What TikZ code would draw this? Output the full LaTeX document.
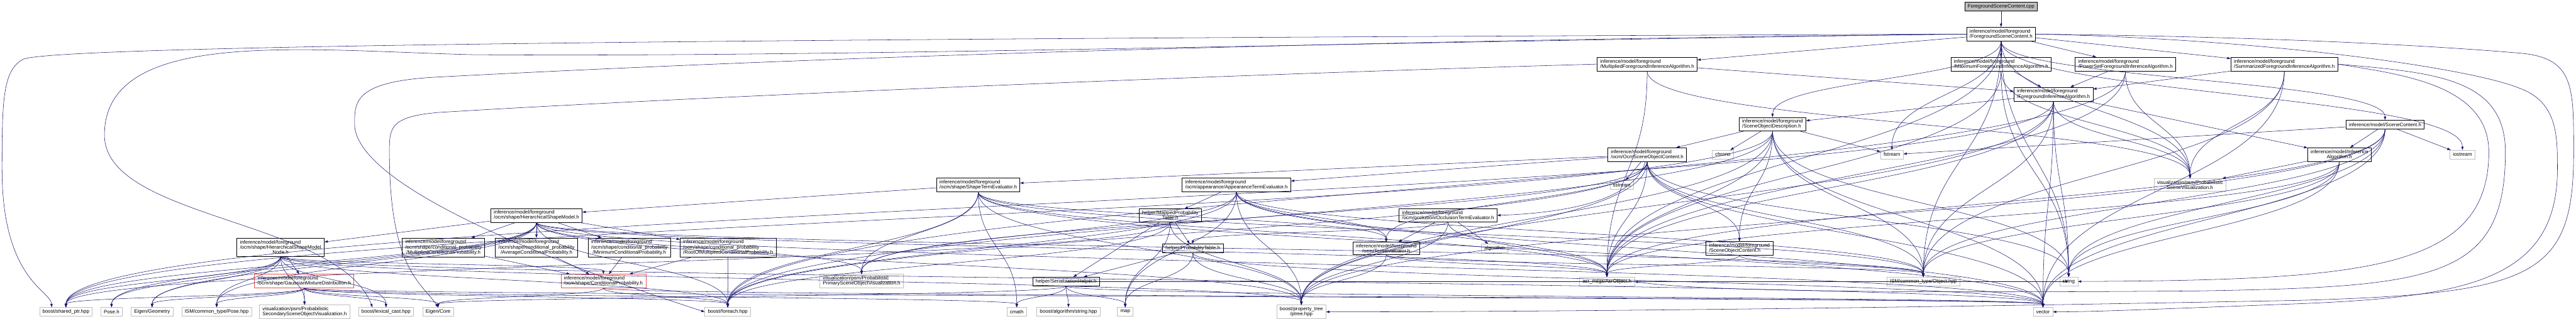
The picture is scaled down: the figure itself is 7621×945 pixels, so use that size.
\documentclass[tikz,border=0pt]{standalone}
\usepackage{fontspec}
\setmainfont{Liberation Sans}
\usepackage{tikz}
\usetikzlibrary{calc,arrows.meta}
\definecolor{edgeblue}{HTML}{191970}
\definecolor{extgrey}{HTML}{BFBFBF}
\definecolor{cutred}{HTML}{F44B4B}
\definecolor{srcgrey}{HTML}{BFBFBF}
\newcommand{\graphfont}{\fontsize{14.7pt}{15pt}\selectfont}
\newcommand{\lastln}[1]{\hspace*{\fill}#1\hspace*{\fill}}

\begin{document}
\begin{tikzpicture}[x=1pt, y=-1pt, >={Triangle[length=10pt,width=7pt]},
  hdr/.style={draw=black, fill=white, line width=1.1pt, align=left, font=\graphfont,
    inner xsep=9pt, inner ysep=6pt, minimum height=26pt},
  ext/.style={hdr, draw=extgrey},
  cut/.style={hdr, draw=cutred},
  src/.style={hdr, fill=srcgrey},
  dep/.style={->, draw=edgeblue, line width=1pt,
    to path={.. controls ($(\tikztostart)!.5!(\tikztostart |- \tikztotarget)$)
      and ($(\tikztotarget)!.5!(\tikztotarget |- \tikztostart)$) .. (\tikztotarget)}}]
\useasboundingbox (0,0) rectangle (7621,945);

\node[src] (cpp) at (5920,19) {ForegroundSceneContent.cpp};
\node[hdr] (fsc) at (5920,101) {inference/model/foreground\\/ForegroundSceneContent.h};
\node[hdr] (mulfia) at (4873,190) {inference/model/foreground\\/MultipliedForegroundInferenceAlgorithm.h};
\node[hdr] (maxfia) at (5920,190) {inference/model/foreground\\/MaximumForegroundInferenceAlgorithm.h};
\node[hdr] (psfia) at (6288,190) {inference/model/foreground\\/PowerSetForegroundInferenceAlgorithm.h};
\node[hdr] (sumfia) at (6758,190) {inference/model/foreground\\/SummarizedForegroundInferenceAlgorithm.h};
\node[hdr] (fia) at (6075,279) {inference/model/foreground\\/ForegroundInferenceAlgorithm.h};
\node[hdr] (sod) at (5244,368) {inference/model/foreground\\/SceneObjectDescription.h};
\node[hdr] (scene) at (7056,369) {inference/model/SceneContent.h};
\node[hdr, align=center] (infalg) at (6921,458) {inference/model/Inference\\Algorithm.h};
\node[ext] (iostream) at (7285,458) {iostream};
\node[ext] (chrono) at (5097,458) {chrono};
\node[ext] (fstream) at (5597,458) {fstream};
\node[hdr] (ocmsoc) at (4873,458) {inference/model/foreground\\/ocm/OcmSceneObjectContent.h};
\node[ext] (sstream) at (4798,548) {sstream};
\node[hdr] (shapete) at (2894,548) {inference/model/foreground\\/ocm/shape/ShapeTermEvaluator.h};
\node[hdr] (appte) at (3658,548) {inference/model/foreground\\/ocm/appearance/AppearanceTermEvaluator.h};
\node[ext, align=center] (psv) at (6479,548) {visualization/psm/Probabilistic\\SceneVisualization.h};
\node[hdr] (occte) at (4284,638) {inference/model/foreground\\/ocm/occlusion/OcclusionTermEvaluator.h};
\node[hdr] (hsm) at (1587,638) {inference/model/foreground\\/ocm/shape/HierarchicalShapeModel.h};
\node[hdr, align=center] (mappt) at (3462,638) {helper/MappedProbability\\Table.h};
\node[hdr] (hsmnode) at (830,733) {inference/model/foreground\\/ocm/shape/HierarchicalShapeModel\\\lastln{Node.h}};
\node[hdr] (mulcp) at (1312,733) {inference/model/foreground\\/ocm/shape/conditional\_probability\\\lastln{/MultipliedConditionalProbability.h}};
\node[hdr] (avgcp) at (1587,733) {inference/model/foreground\\/ocm/shape/conditional\_probability\\\lastln{/AverageConditionalProbability.h}};
\node[hdr] (mincp) at (1862,733) {inference/model/foreground\\/ocm/shape/conditional\_probability\\\lastln{/MinimumConditionalProbability.h}};
\node[hdr] (rootcp) at (2154,733) {inference/model/foreground\\/ocm/shape/conditional\_probability\\/RootOfMultipliedConditionalProbability.h};
\node[hdr, align=center] (termev) at (4101,736) {inference/model/foreground\\/ocm/TermEvaluator.h};
\node[ext] (algorithm) at (4422,736) {algorithm};
\node[hdr] (pt) at (3529,736) {helper/ProbabilityTable.h};
\node[hdr] (soc) at (5146,736) {inference/model/foreground\\/SceneObjectContent.h};
\node[cut] (gmd) at (900,833) {inference/model/foreground\\/ocm/shape/GaussianMixtureDistribution.h};
\node[cut] (cp) at (1785,833) {inference/model/foreground\\/ocm/shape/ConditionalProbability.h};
\node[ext] (primsov) at (2549,833) {visualization/psm/Probabilistic\\PrimarySceneObjectVisualization.h};
\node[hdr] (serial) at (3154,834) {helper/SerializationHelper.h};
\node[ext] (asr) at (4754,834) {asr\_msgs/AsrObject.h};
\node[ext] (ismobj) at (5690,834) {ISM/common\_type/Object.hpp};
\node[ext] (string) at (6120,834) {string};
\node[ext] (sharedptr) at (195,924) {boost/shared\_ptr.hpp};
\node[ext] (poseh) at (330,924) {Pose.h};
\node[ext] (eigengeo) at (450,924) {Eigen/Geometry};
\node[ext] (ismpose) at (641,924) {ISM/common\_type/Pose.hpp};
\node[ext] (secsov) at (901,924) {visualization/psm/Probabilistic\\SecondarySceneObjectVisualization.h};
\node[ext] (lexcast) at (1142,924) {boost/lexical\_cast.hpp};
\node[ext] (eigencore) at (1296,924) {Eigen/Core};
\node[ext] (foreach) at (2153,924) {boost/foreach.hpp};
\node[ext] (cmath) at (3008,924) {cmath};
\node[ext] (algstr) at (3161,924) {boost/algorithm/string.hpp};
\node[ext] (map) at (3329,924) {map};
\node[ext, align=center] (ptree) at (3850,924) {boost/property\_tree\\/ptree.hpp};
\node[ext] (vector) at (6044,924) {vector};

\draw[dep] (cpp) -- (fsc);
\foreach \t in {mulfia,maxfia,psfia,sumfia} \draw[dep] (fsc) -- (\t);
\foreach \t in {sod,fstream,scene,iostream,string,asr,ismobj,psv} \draw[dep] (fsc) to (\t);
\draw[dep] (fsc.west) .. controls (3000,112) and (200,128) .. (70,175)
  .. controls (8,205) and (6,300) .. (6,500) .. controls (6,830) and (150,860) .. ([xshift=-42]sharedptr.north);
\draw[dep] (fsc.west) .. controls (4000,125) and (2500,170) .. (1400,162)
  .. controls (900,150) and (309,80) .. (309,400) .. controls (309,650) and (1000,650) .. ([xshift=-40]lexcast.north);
\draw[dep] (fsc.west) .. controls (4000,120) and (2500,165) .. (1300,228)
  .. controls (1049,240) and (1049,300) .. (1049,367) .. controls (1049,560) and (1700,800) .. (foreach.west);
\draw[dep] (fsc.east) .. controls (6800,110) and (7250,140) .. (7450,157)
  .. controls (7614,170) and (7614,250) .. (7614,450) .. controls (7614,820) and (7500,870) .. (6800,890)
  .. controls (5500,915) and (4500,924) .. (ptree.east);
\draw[dep] (fsc.east) .. controls (6700,115) and (7300,200) .. (7450,260)
  .. controls (7566,300) and (7566,400) .. (7566,500) .. controls (7566,830) and (7300,880) .. (6800,900)
  .. controls (6400,915) and (6200,924) .. (vector.east);

\draw[dep] (mulfia) -- (fia);
\foreach \t in {psv,asr} \draw[dep] (mulfia) to (\t);
\draw[dep] (mulfia.west) .. controls (3500,225) and (2000,290) .. (1300,333)
  .. controls (1152,345) and (1152,380) .. (1152,450) .. controls (1152,800) and (1250,840) .. (eigencore.north);
\draw[dep] (maxfia) -- (fia);
\foreach \t in {psv,string,asr} \draw[dep] (maxfia) to (\t);
\draw[dep] (psfia) -- (fia);
\foreach \t in {psv,asr,foreach} \draw[dep] (psfia) to (\t);
\draw[dep] (sumfia) -- (fia);
\foreach \t in {psv,vector,ismobj} \draw[dep] (sumfia) to (\t);
\draw[dep] (sumfia.east) .. controls (7200,215) and (7412,230) .. (7412,450)
  .. controls (7412,830) and (7200,850) .. (6500,862) .. controls (5500,870) and (5000,860) .. (asr.east);
\draw[dep] (sumfia.east) .. controls (7100,220) and (7363,250) .. (7363,450)
  .. controls (7363,800) and (7000,830) .. (string.east);

\draw[dep] (fia) -- (sod);
\draw[dep] (fia) -- (infalg);
\foreach \t in {psv,vector,string,asr,ismobj,ptree,sharedptr} \draw[dep] (fia) to (\t);
\foreach \t in {ocmsoc,chrono,fstream} \draw[dep] (sod) -- (\t);
\foreach \t in {soc,vector,string,asr,ismobj,ptree,foreach,sharedptr} \draw[dep] (sod) to (\t);
\foreach \t in {infalg,iostream,fstream} \draw[dep] (scene) -- (\t);
\foreach \t in {vector,string,asr,ismobj,ptree} \draw[dep] (scene) to (\t);
\draw[dep] (infalg) -- (psv);
\foreach \t in {vector,string,asr,ismobj} \draw[dep] (infalg) to (\t);

\foreach \t in {sstream,shapete,appte} \draw[dep] (ocmsoc) -- (\t);
\draw[dep] (ocmsoc) .. controls +(-40,150) and +(150,-5) .. (occte.east);
\foreach \t in {termev,soc,primsov,vector,string,asr,ismobj,ptree,foreach} \draw[dep] (ocmsoc) to (\t);
\draw[dep] (shapete) -- (hsm);
\foreach \t in {termev,primsov,cmath,vector,asr,ismobj,ptree,foreach} \draw[dep] (shapete) to (\t);
\draw[dep] (appte) -- (mappt);
\foreach \t in {termev,map,primsov,vector,asr,ismobj,ptree,foreach} \draw[dep] (appte) to (\t);
\foreach \t in {termev,algorithm} \draw[dep] (occte) -- (\t);
\foreach \t in {pt,asr,ptree} \draw[dep] (occte) to (\t);
\foreach \t in {asr,ismobj,ptree} \draw[dep] (termev) to (\t);
\foreach \t in {asr,ismobj} \draw[dep] (soc) to (\t);
\foreach \t in {pt,serial} \draw[dep] (mappt) -- (\t);
\foreach \t in {map,ptree,sharedptr,foreach} \draw[dep] (mappt) to (\t);
\draw[dep] (pt) -- (serial);
\foreach \t in {map,vector,ptree} \draw[dep] (pt) to (\t);
\foreach \t in {cmath,algstr,map,string,vector,eigencore} \draw[dep] (serial) to (\t);

\foreach \t in {hsmnode,mulcp,avgcp,mincp,rootcp} \draw[dep] (hsm) -- (\t);
\foreach \t in {primsov,eigengeo,poseh,ismpose,asr,ismobj,vector,ptree,foreach,sharedptr} \draw[dep] (hsm) to (\t);
\draw[dep] (hsmnode) -- (gmd);
\foreach \t in {secsov,cp,eigengeo,poseh,ismpose,lexcast,sharedptr,ptree,foreach,vector} \draw[dep] (hsmnode) to (\t);
\draw[dep] (gmd) -- (secsov);
\foreach \t in {eigengeo,ismpose,lexcast,cmath,sharedptr,foreach,vector,eigencore} \draw[dep] (gmd) to (\t);
\foreach \s in {mulcp,avgcp,mincp,rootcp} \draw[dep] (\s) -- (cp);
\draw[dep] (rootcp) to (foreach);
\foreach \t in {eigencore,foreach,vector} \draw[dep] (cp) to (\t);
\end{tikzpicture}
\end{document}
